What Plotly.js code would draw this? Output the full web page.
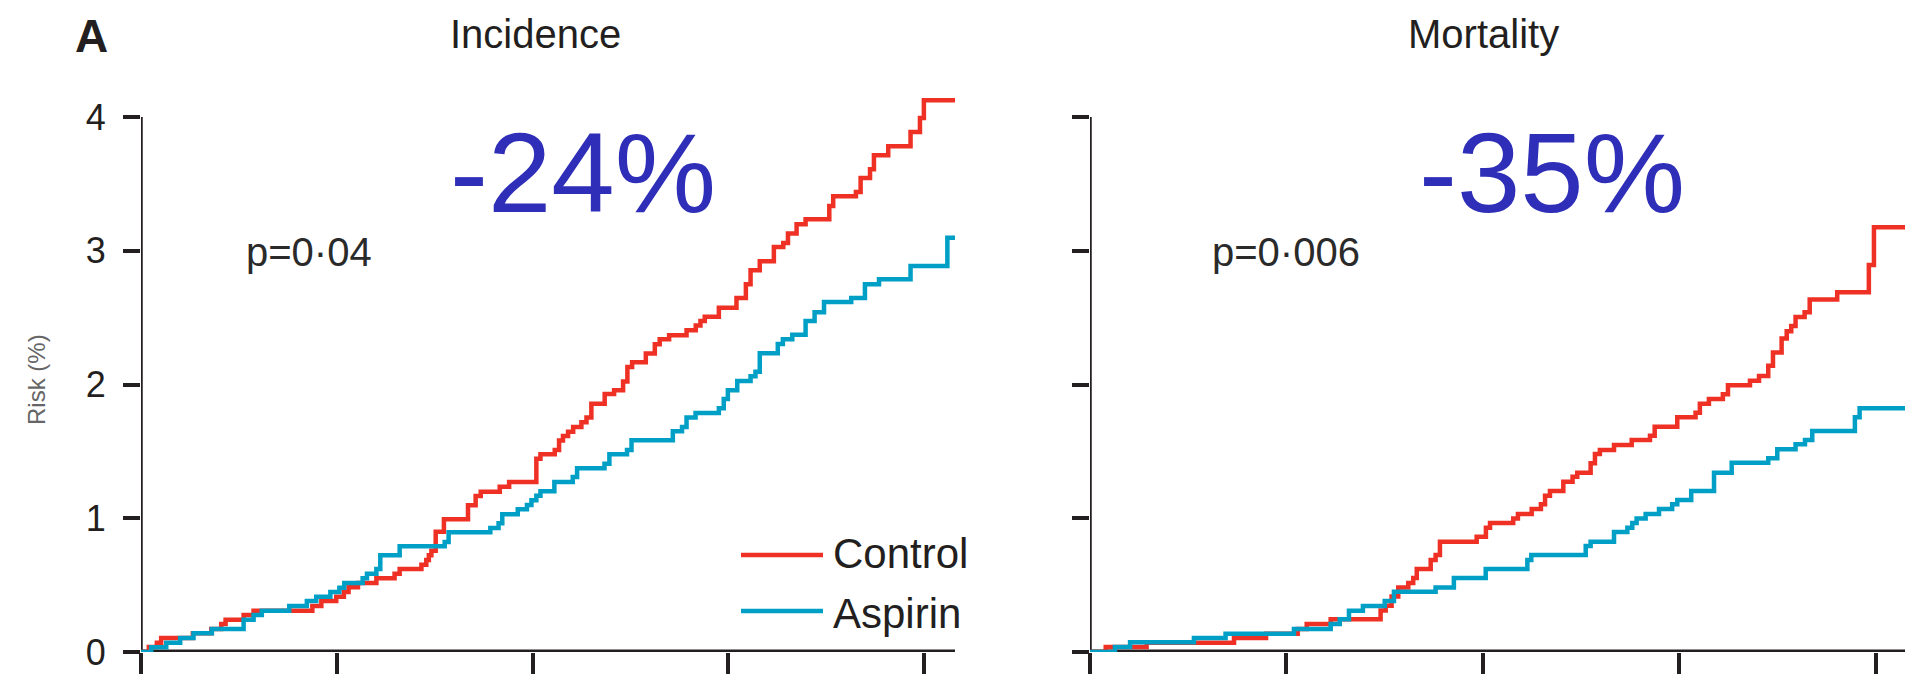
<!DOCTYPE html>
<html>
<head>
<meta charset="utf-8">
<script src="https://cdn.plot.ly/plotly-3.0.1.min.js"></script>
<style>
  html, body { margin: 0; padding: 0; background: #ffffff; }
  #chart { width: 1922px; height: 679px; }
</style>
</head>
<body>
<div id="chart"></div>
<script>
// ---- Data (years of follow-up vs cumulative risk, %) ----
const panelTitles = ["Incidence", "Mortality"];
const seriesNames = ["Control", "Aspirin"];
const pValues = ["p=0·04", "p=0·006"];
const reductions = ["-24%", "-35%"];
const xTickVals = [0, 1, 2, 3, 4];
const yTickVals = [0, 1, 2, 3, 4];
const yTickText = ["0", "1", "2", "3", "4"];
const yAxisLabel = "Risk (%)";
const panelLetter = "A";

// Incidence – Control
const incCtrlT = [0, 0.040, 0.081, 0.103, 0.265, 0.359, 0.410, 0.432, 0.524, 0.575, 0.875, 0.921, 0.997, 1.036, 1.060, 1.108, 1.202, 1.295, 1.321, 1.432, 1.457, 1.470, 1.483, 1.505, 1.547, 1.670, 1.709, 1.735, 1.832, 1.880, 2.019, 2.040, 2.113, 2.135, 2.155, 2.181, 2.207, 2.249, 2.275, 2.300, 2.368, 2.416, 2.462, 2.484, 2.508, 2.578, 2.624, 2.649, 2.697, 2.786, 2.833, 2.857, 2.879, 2.951, 3.041, 3.089, 3.113, 3.160, 3.232, 3.280, 3.304, 3.348, 3.394, 3.515, 3.535, 3.651, 3.675, 3.723, 3.743, 3.816, 3.930, 3.978, 3.998, 4.157];
const incCtrlRisk = [0, 0.037, 0.070, 0.105, 0.140, 0.172, 0.209, 0.242, 0.277, 0.309, 0.344, 0.382, 0.414, 0.449, 0.484, 0.516, 0.551, 0.586, 0.621, 0.653, 0.688, 0.723, 0.758, 0.900, 0.992, 1.097, 1.167, 1.199, 1.236, 1.271, 1.446, 1.478, 1.511, 1.581, 1.616, 1.648, 1.683, 1.718, 1.753, 1.857, 1.930, 1.957, 2.022, 2.132, 2.167, 2.233, 2.301, 2.338, 2.369, 2.406, 2.441, 2.476, 2.508, 2.575, 2.648, 2.750, 2.855, 2.922, 3.029, 3.059, 3.130, 3.199, 3.236, 3.336, 3.408, 3.440, 3.545, 3.610, 3.715, 3.782, 3.889, 3.994, 4.126, 4.126];

// Incidence – Aspirin
const incAspT = [0, 0.052, 0.129, 0.200, 0.268, 0.362, 0.524, 0.575, 0.617, 0.757, 0.847, 0.895, 0.967, 1.013, 1.038, 1.132, 1.154, 1.202, 1.222, 1.321, 1.551, 1.571, 1.784, 1.826, 1.845, 1.924, 1.971, 1.994, 2.019, 2.040, 2.111, 2.205, 2.227, 2.367, 2.392, 2.482, 2.505, 2.716, 2.763, 2.786, 2.832, 2.951, 2.976, 2.997, 3.045, 3.113, 3.138, 3.160, 3.252, 3.278, 3.326, 3.394, 3.440, 3.488, 3.627, 3.697, 3.769, 3.930, 4.118, 4.157];
const incAspRisk = [0, 0.035, 0.070, 0.105, 0.140, 0.172, 0.242, 0.277, 0.309, 0.344, 0.382, 0.414, 0.449, 0.481, 0.516, 0.551, 0.586, 0.621, 0.723, 0.790, 0.823, 0.895, 0.927, 0.962, 1.030, 1.067, 1.099, 1.134, 1.169, 1.202, 1.271, 1.309, 1.374, 1.408, 1.478, 1.511, 1.583, 1.651, 1.683, 1.753, 1.788, 1.823, 1.892, 1.957, 2.027, 2.062, 2.096, 2.234, 2.304, 2.338, 2.373, 2.476, 2.541, 2.618, 2.648, 2.750, 2.788, 2.887, 3.097, 3.097];

// Mortality – Control
const morCtrlT = [0, 0.080, 0.288, 0.733, 0.896, 1.057, 1.103, 1.225, 1.479, 1.505, 1.535, 1.569, 1.620, 1.645, 1.663, 1.734, 1.759, 1.781, 1.968, 2.015, 2.036, 2.154, 2.178, 2.248, 2.295, 2.316, 2.341, 2.409, 2.456, 2.480, 2.548, 2.570, 2.595, 2.667, 2.757, 2.850, 2.874, 2.989, 3.082, 3.104, 3.150, 3.221, 3.247, 3.359, 3.405, 3.452, 3.476, 3.520, 3.546, 3.569, 3.591, 3.637, 3.663, 3.803, 3.964, 3.990, 4.148];
const morCtrlRisk = [0, 0.037, 0.070, 0.104, 0.137, 0.172, 0.209, 0.244, 0.311, 0.345, 0.415, 0.483, 0.516, 0.553, 0.621, 0.688, 0.725, 0.825, 0.862, 0.930, 0.965, 0.999, 1.032, 1.069, 1.104, 1.169, 1.204, 1.274, 1.311, 1.341, 1.411, 1.481, 1.511, 1.548, 1.586, 1.618, 1.685, 1.755, 1.790, 1.857, 1.892, 1.927, 1.994, 2.029, 2.064, 2.140, 2.240, 2.344, 2.398, 2.438, 2.505, 2.540, 2.637, 2.690, 2.894, 3.177, 3.177];

// Mortality – Aspirin
const morAspT = [0, 0.127, 0.204, 0.529, 0.690, 1.038, 1.225, 1.271, 1.318, 1.389, 1.500, 1.547, 1.759, 1.852, 2.014, 2.226, 2.246, 2.523, 2.548, 2.667, 2.735, 2.760, 2.782, 2.828, 2.896, 2.963, 2.989, 3.060, 3.176, 3.266, 3.452, 3.498, 3.591, 3.639, 3.676, 3.893, 3.917, 4.148];
const morAspRisk = [0, 0.037, 0.072, 0.104, 0.137, 0.172, 0.209, 0.244, 0.309, 0.344, 0.381, 0.451, 0.483, 0.553, 0.621, 0.688, 0.725, 0.793, 0.825, 0.897, 0.930, 0.965, 0.999, 1.032, 1.069, 1.104, 1.137, 1.204, 1.341, 1.416, 1.448, 1.516, 1.553, 1.586, 1.653, 1.755, 1.822, 1.822];

// ---- Styling ----
const RED = "#EE3124";
const BLUE = "#00A0C6";
const INK = "#231F20";
const BIG = "#2E2EB8";
const TXT_FONT = "Liberation Sans, Arial, sans-serif";
const BIG_FONT = "Liberation Sans, Arial, sans-serif";

const xMaxL = incCtrlT[incCtrlT.length - 1];
const xMaxR = morCtrlT[morCtrlT.length - 1];

function stepTrace(t, r, name, color, xa, ya) {
  return {
    x: t, y: r, name: name, type: "scatter", mode: "lines",
    line: { color: color, width: 4.5, shape: "hv" },
    xaxis: xa, yaxis: ya, showlegend: false, hoverinfo: "skip"
  };
}

const traces = [
  stepTrace(incCtrlT, incCtrlRisk, seriesNames[0], RED, "x", "y"),
  stepTrace(incAspT, incAspRisk, seriesNames[1], BLUE, "x", "y"),
  stepTrace(morCtrlT, morCtrlRisk, seriesNames[0], RED, "x2", "y2"),
  stepTrace(morAspT, morAspRisk, seriesNames[1], BLUE, "x2", "y2")
];

const W = 1922, H = 679;
const mL = 141, mR = 17, mT = 77, mB = 27;
const pw = W - mL - mR, ph = H - mT - mB;
const px = X => (X - mL) / pw;
const py = Y => (H - mB - Y) / ph;

const xCommon = {
  showgrid: false, zeroline: false, showline: false,
  ticks: "outside", ticklen: 21, tickwidth: 4, tickcolor: INK,
  tickvals: xTickVals, showticklabels: false, fixedrange: true
};
const yCommon = {
  showgrid: false, zeroline: false, showline: false,
  ticks: "outside", ticklen: 17, tickwidth: 4, tickcolor: INK,
  tickvals: yTickVals, ticktext: yTickText, range: [0, 4.3], fixedrange: true,
  tickfont: { family: TXT_FONT, size: 36, color: INK }, ticklabelstandoff: 10
};

const layout = {
  width: W, height: H,
  margin: { l: mL, r: mR, t: mT, b: mB, pad: 0 },
  paper_bgcolor: "#ffffff", plot_bgcolor: "#ffffff",
  showlegend: false,
  xaxis: Object.assign({}, xCommon, { domain: [0, px(955)], range: [0, xMaxL], anchor: "y" }),
  yaxis: Object.assign({}, yCommon, { domain: [0, 1], anchor: "x" }),
  xaxis2: Object.assign({}, xCommon, { domain: [px(1090), 1], range: [0, xMaxR], anchor: "y2" }),
  yaxis2: Object.assign({}, yCommon, { domain: [0, 1], anchor: "x2", showticklabels: false }),
  shapes: [
    // axis lines (y axes stop at the top tick)
    { type: "line", xref: "x", yref: "y", x0: 0, x1: 0, y0: 0, y1: yTickVals[yTickVals.length - 1], line: { color: INK, width: 3.5 }, layer: "below" },
    { type: "line", xref: "x", yref: "y", x0: 0, x1: xMaxL, y0: 0, y1: 0, line: { color: INK, width: 5 }, layer: "below" },
    { type: "line", xref: "x2", yref: "y2", x0: 0, x1: 0, y0: 0, y1: yTickVals[yTickVals.length - 1], line: { color: INK, width: 3.5 }, layer: "below" },
    { type: "line", xref: "x2", yref: "y2", x0: 0, x1: xMaxR, y0: 0, y1: 0, line: { color: INK, width: 5 }, layer: "below" },
    // legend keys
    { type: "line", xref: "paper", yref: "paper", x0: px(741), x1: px(823), y0: py(555), y1: py(555), line: { color: RED, width: 4.5 } },
    { type: "line", xref: "paper", yref: "paper", x0: px(741), x1: px(823), y0: py(611), y1: py(611), line: { color: BLUE, width: 4.5 } }
  ],
  annotations: [
    { text: panelLetter, xref: "paper", yref: "paper", x: px(91), y: py(36), showarrow: false, font: { family: TXT_FONT, size: 46, color: INK, weight: "bold" }, xanchor: "center", yanchor: "middle" },
    { text: panelTitles[0], xref: "paper", yref: "paper", x: px(535), y: py(34), showarrow: false, font: { family: TXT_FONT, size: 40, color: INK }, xanchor: "center", yanchor: "middle" },
    { text: panelTitles[1], xref: "paper", yref: "paper", x: px(1483), y: py(34), showarrow: false, font: { family: TXT_FONT, size: 40, color: INK }, xanchor: "center", yanchor: "middle" },
    { text: pValues[0], xref: "paper", yref: "paper", x: px(244), y: py(252), showarrow: false, font: { family: TXT_FONT, size: 40, color: "#2a2a2a" }, xanchor: "left", yanchor: "middle" },
    { text: pValues[1], xref: "paper", yref: "paper", x: px(1210), y: py(252), showarrow: false, font: { family: TXT_FONT, size: 40, color: "#2a2a2a" }, xanchor: "left", yanchor: "middle" },
    { text: reductions[0], xref: "paper", yref: "paper", x: px(583), y: py(172), showarrow: false, font: { family: BIG_FONT, size: 114, color: BIG }, xanchor: "center", yanchor: "middle" },
    { text: reductions[1], xref: "paper", yref: "paper", x: px(1552), y: py(172), showarrow: false, font: { family: BIG_FONT, size: 114, color: BIG }, xanchor: "center", yanchor: "middle" },
    { text: seriesNames[0], xref: "paper", yref: "paper", x: px(831), y: py(553), showarrow: false, font: { family: TXT_FONT, size: 42, color: INK }, xanchor: "left", yanchor: "middle" },
    { text: seriesNames[1], xref: "paper", yref: "paper", x: px(831), y: py(613), showarrow: false, font: { family: TXT_FONT, size: 42, color: INK }, xanchor: "left", yanchor: "middle" },
    { text: yAxisLabel, xref: "paper", yref: "paper", x: px(36), y: py(380), showarrow: false, textangle: -90, font: { family: TXT_FONT, size: 24, color: "#666666" }, xanchor: "center", yanchor: "middle" }
  ]
};

Plotly.newPlot("chart", traces, layout, { staticPlot: true, displayModeBar: false });
</script>
</body>
</html>
